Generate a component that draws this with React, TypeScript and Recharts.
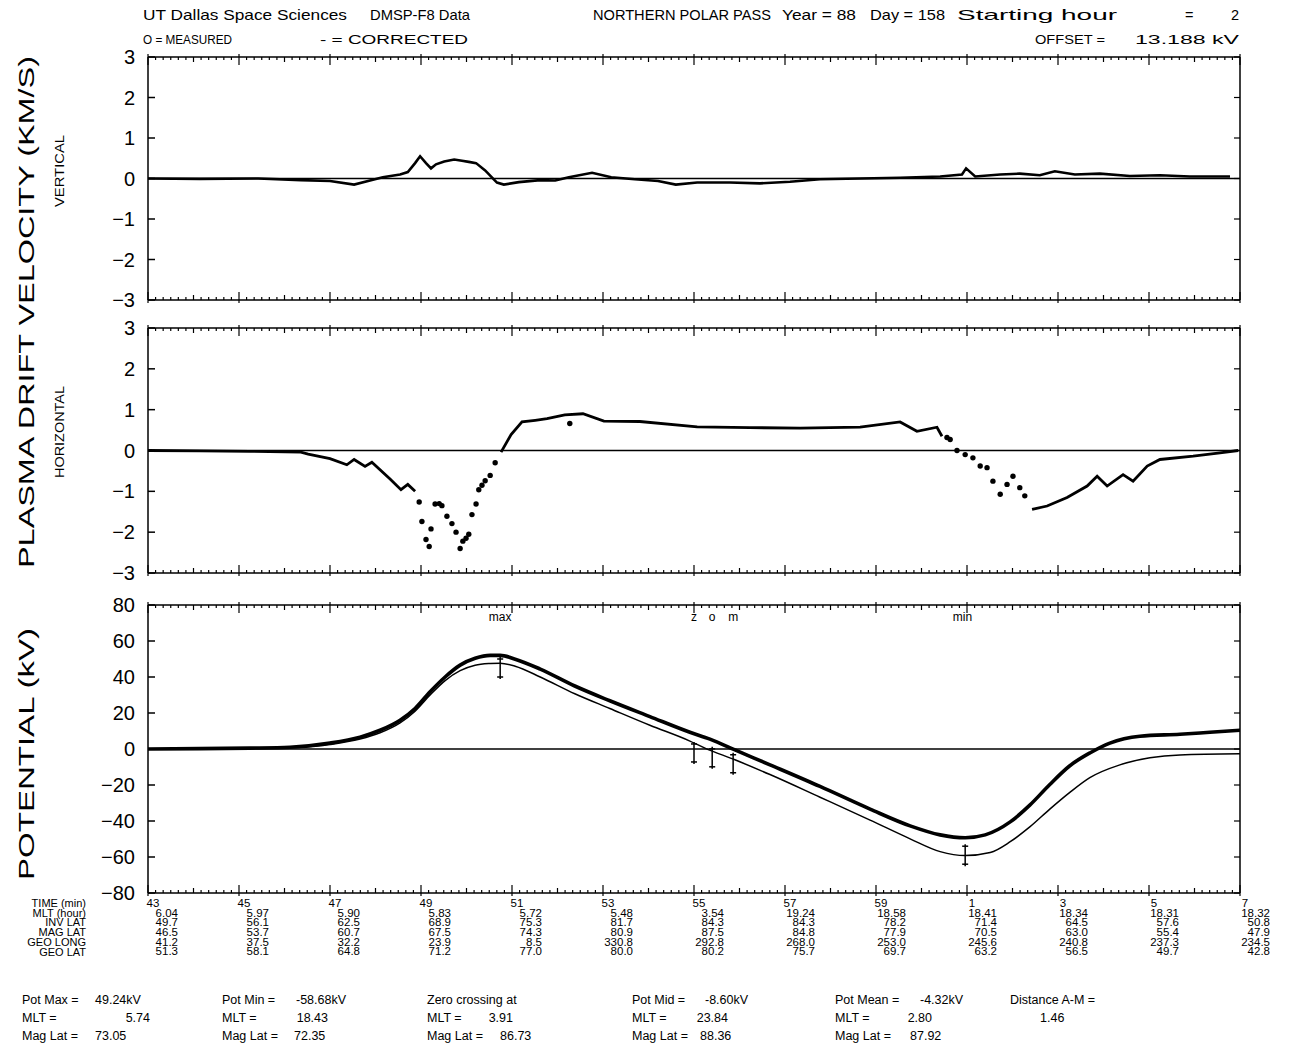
import React from "react";
import { ComposedChart, Line, Scatter, XAxis, YAxis, ReferenceLine } from "recharts";

const FONT = "'Liberation Sans', Arial, sans-serif";

// x axis: minutes after 02:43 UT (0 .. 24)
const timeLabels = ["43", "45", "47", "49", "51", "53", "55", "57", "59", "1", "3", "5", "7"];
const mltLabels = ["6.04", "5.97", "5.90", "5.83", "5.72", "5.48", "3.54", "19.24", "18.58", "18.41", "18.34", "18.31", "18.32"];
const invLatLabels = ["49.7", "56.1", "62.5", "68.9", "75.3", "81.7", "84.3", "84.3", "78.2", "71.4", "64.5", "57.6", "50.8"];
const magLatLabels = ["46.5", "53.7", "60.7", "67.5", "74.3", "80.9", "87.5", "84.8", "77.9", "70.5", "63.0", "55.4", "47.9"];
const geoLongLabels = ["41.2", "37.5", "32.2", "23.9", "8.5", "330.8", "292.8", "268.0", "253.0", "245.6", "240.8", "237.3", "234.5"];
const geoLatLabels = ["51.3", "58.1", "64.8", "71.2", "77.0", "80.0", "80.2", "75.7", "69.7", "63.2", "56.5", "49.7", "42.8"];
const rowNames = ["TIME (min)", "MLT (hour)", "INV LAT", "MAG LAT", "GEO LONG", "GEO LAT"];

const velTicks = [-3, -2, -1, 0, 1, 2, 3];
const potTicks = [-80, -60, -40, -20, 0, 20, 40, 60, 80];

// vertical drift (km/s)
const vertical = [
  [0, 0], [1.14, -0.01], [2.42, 0], [3.36, -0.04], [4.0, -0.06], [4.53, -0.15], [4.88, -0.05],
  [5.16, 0.03], [5.54, 0.1], [5.71, 0.16], [5.87, 0.38], [5.98, 0.55], [6.11, 0.38], [6.22, 0.25],
  [6.33, 0.35], [6.51, 0.42], [6.73, 0.47], [6.9, 0.44], [7.05, 0.41], [7.21, 0.38], [7.41, 0.2],
  [7.6, -0.02], [7.67, -0.1], [7.82, -0.15], [8.15, -0.09], [8.62, -0.04], [8.95, -0.05], [9.25, 0.03],
  [9.76, 0.14], [10.18, 0.03], [10.7, -0.02], [11.21, -0.06], [11.6, -0.15], [12.07, -0.1],
  [12.79, -0.1], [13.45, -0.12], [14.11, -0.08], [14.77, -0.02], [15.65, 0], [16.53, 0.02],
  [17.41, 0.05], [17.89, 0.1], [17.98, 0.25], [18.18, 0.05], [18.73, 0.1], [19.16, 0.12],
  [19.6, 0.08], [19.93, 0.18], [20.37, 0.1], [20.92, 0.12], [21.58, 0.06], [22.24, 0.08],
  [22.9, 0.05], [23.78, 0.05],
];

// horizontal drift (km/s): continuous stretches and sparse points
const horizLineA = [
  [0, 0], [1.14, -0.01], [2.24, -0.02], [3.36, -0.04], [3.52, -0.09], [4.0, -0.2], [4.37, -0.35],
  [4.53, -0.22], [4.77, -0.39], [4.92, -0.29], [5.32, -0.7], [5.56, -0.96], [5.71, -0.83], [5.87, -1.0],
];
const horizDotsA = [
  [5.96, -1.26], [6.02, -1.74], [6.11, -2.18], [6.18, -2.35], [6.22, -1.92], [6.31, -1.31],
  [6.4, -1.3], [6.46, -1.35], [6.57, -1.61], [6.68, -1.79], [6.77, -2.0], [6.86, -2.4],
  [6.92, -2.22], [6.99, -2.15], [7.05, -2.05], [7.12, -1.57], [7.21, -1.31], [7.27, -0.96],
  [7.34, -0.85], [7.41, -0.74], [7.52, -0.61], [7.63, -0.3],
];
const horizLineB = [
  [7.76, -0.04], [7.98, 0.39], [8.22, 0.7], [8.51, 0.74], [8.77, 0.78], [9.16, 0.87], [9.56, 0.9],
  [10.02, 0.72], [10.81, 0.71], [12.07, 0.58], [13.23, 0.56], [14.33, 0.55], [15.65, 0.57],
  [16.53, 0.7], [16.9, 0.47], [17.34, 0.57], [17.45, 0.35],
];
const horizDotsB = [
  [9.27, 0.66], [17.56, 0.32], [17.63, 0.27], [17.78, 0], [17.96, -0.1], [18.13, -0.18],
  [18.29, -0.38], [18.44, -0.42], [18.57, -0.75], [18.73, -1.07], [18.88, -0.83], [19.01, -0.63],
  [19.16, -0.91], [19.27, -1.11],
];
const horizLineC = [
  [19.43, -1.44], [19.76, -1.36], [20.2, -1.15], [20.64, -0.87], [20.86, -0.63], [21.08, -0.87],
  [21.43, -0.59], [21.65, -0.75], [21.96, -0.38], [22.24, -0.22], [22.97, -0.14], [23.56, -0.06],
  [23.96, 0],
];

// potential (kV)
const measured = [
  [0, 0], [1.14, 0.2], [2.24, 0.5], [3.12, 1], [4.0, 3.3], [4.66, 6.6], [5.1, 10.4], [5.54, 16],
  [5.87, 22.5], [6.2, 31.8], [6.53, 40], [6.86, 46.6], [7.19, 50.4], [7.52, 52], [7.74, 52],
  [8.07, 49.9], [8.62, 44.4], [9.38, 35], [10.15, 26.8], [11.03, 18], [11.91, 9.3], [12.35, 5.5],
  [12.9, -0.5], [13.67, -8.8], [14.77, -20.8], [15.87, -33.4], [16.75, -42.7], [17.41, -47.7],
  [17.96, -49.3], [18.4, -47.7], [18.95, -40.5], [19.38, -31.2], [19.82, -19.7], [20.26, -9.3],
  [20.7, -2.2], [21.14, 3.3], [21.8, 7.1], [22.68, 8.2], [23.34, 9.3], [24, 10.4],
];
const corrected = [
  [0, 0], [2.24, 0.3], [3.34, 0.8], [4.0, 2.5], [4.66, 5.5], [5.1, 9], [5.54, 14.5], [5.87, 21],
  [6.2, 30], [6.53, 38], [6.86, 43.5], [7.19, 46.5], [7.52, 47.5], [7.74, 47.7], [8.07, 46],
  [8.62, 40], [9.38, 30.7], [10.15, 22.5], [11.03, 13.2], [11.91, 4.4], [12.24, 0.5], [12.9, -6],
  [13.67, -14.2], [14.77, -26.8], [15.87, -39.5], [16.75, -49.9], [17.41, -57], [17.96, -59.2],
  [18.51, -57.5], [18.95, -51.5], [19.38, -43.3], [19.82, -33.4], [20.26, -24.1], [20.7, -15.9],
  [21.36, -8.8], [22.02, -4.9], [22.68, -3.3], [24, -2.7],
];
const markers = [[7.74, 45], [12.0, -2.2], [12.4, -4.9], [12.86, -8.2], [17.96, -59]];
const markerNames = ["max", "z", "o", "m", "min"];
const markerNameT = [7.74, 12.0, 12.4, 12.86, 17.9];

const pts = (a: number[][]) => a.map(([t, v]) => ({ t, v }));

const xTicks = Array.from({ length: 145 }, (_, i) => i / 6);
const labelRows = [mltLabels, invLatLabels, magLatLabels, geoLongLabels, geoLatLabels];

const edgeTick = (side: "top" | "bottom", withLabels = false) => (props: any) => {
  const { x, y, payload } = props;
  const i = Math.round(payload.value * 6);
  const major = i % 12 === 0;
  const len = major ? 8 : i % 6 === 0 ? 5 : 3;
  const dir = side === "top" ? 1 : -1;
  const k = i / 12;
  return (
    <g>
      <line x1={x} x2={x} y1={major ? y - dir * 3 : y} y2={y + dir * len} stroke="#000" strokeWidth={1.2} />
      {withLabels && major && (
        <g fontFamily={FONT} fontSize={11.5} fill="#000">
          <text x={x + 5} y={y + 14} textAnchor="middle">{timeLabels[k]}</text>
          {labelRows.map((row, r) => (
            <text key={r} x={x + 30} y={y + 23.5 + r * 9.7} textAnchor="end">{row[k]}</text>
          ))}
        </g>
      )}
    </g>
  );
};

const fmt = (v: number) => (v < 0 ? "\u2212" + Math.abs(v) : String(v));

const leftTick = (props: any) => {
  const { x, y, payload } = props;
  return (
    <g>
      <line x1={x} x2={x + 7} y1={y} y2={y} stroke="#000" strokeWidth={1.5} />
      <text x={x - 13} y={y + 7} textAnchor="end" fontFamily={FONT} fontSize={20} fill="#000">
        {fmt(payload.value)}
      </text>
    </g>
  );
};

const rightTick = (props: any) => {
  const { x, y } = props;
  return <line x1={x} x2={x - 6} y1={y} y2={y} stroke="#000" strokeWidth={1.2} />;
};

function Frame({ ticks, domain, bottomLabels }: { ticks: number[]; domain: number[]; bottomLabels?: boolean }) {
  return [
    <XAxis key="xb" xAxisId="b" type="number" dataKey="t" domain={[0, 24]} ticks={xTicks} interval={0}
      allowDataOverflow height={bottomLabels ? 80 : 10} tickSize={0} tickMargin={0}
      tick={edgeTick("bottom", bottomLabels)} axisLine={{ stroke: "#000", strokeWidth: 1.5 }} tickLine={false} />,
    <XAxis key="xt" xAxisId="top" orientation="top" type="number" dataKey="t" domain={[0, 24]} ticks={xTicks}
      interval={0} allowDataOverflow height={10} tickSize={0} tickMargin={0} tick={edgeTick("top")}
      axisLine={{ stroke: "#000", strokeWidth: 1.5 }} tickLine={false} />,
    <YAxis key="yl" yAxisId="l" type="number" dataKey="v" domain={domain} ticks={ticks} interval={0}
      allowDataOverflow width={148} tickSize={0} tickMargin={0} tick={leftTick}
      axisLine={{ stroke: "#000", strokeWidth: 1.5 }} tickLine={false} />,
    <YAxis key="yr" yAxisId="r" orientation="right" type="number" domain={domain} ticks={ticks} interval={0}
      allowDataOverflow width={70} tickSize={0} tickMargin={0} tick={rightTick}
      axisLine={{ stroke: "#000", strokeWidth: 1.5 }} tickLine={false} />,
    <ReferenceLine key="zero" xAxisId="b" yAxisId="l" y={0} stroke="#000" strokeWidth={1.5} />,
  ];
}

const dotShape = (p: any) => <circle cx={p.cx} cy={p.cy} r={2.7} fill="#000" />;
const markerShape = (p: any) => (
  <g stroke="#000" strokeWidth={1.5}>
    <line x1={p.cx} x2={p.cx} y1={p.cy - 11} y2={p.cy + 11} />
    <line x1={p.cx - 3} x2={p.cx + 3} y1={p.cy - 9} y2={p.cy - 9} />
    <line x1={p.cx - 3} x2={p.cx + 3} y1={p.cy + 9} y2={p.cy + 9} />
  </g>
);
const nameShape = (p: any) => (
  <text x={p.cx} y={p.cy} textAnchor="middle" fontFamily={FONT} fontSize={12} fill="#000" stroke="none">
    {p.payload.label}
  </text>
);

const W = 1310;
const SG = "spacingAndGlyphs";

export default function App() {
  const nameData = markerNameT.map((t, i) => ({ t, v: 71, label: markerNames[i] }));
  return (
    <div style={{ position: "absolute", left: 0, top: 0, width: W, height: 1051, background: "#fff" }}>
      {/* vertical velocity */}
      <div style={{ position: "absolute", left: 0, top: 47 }}>
        <ComposedChart width={W} height={263} margin={{ top: 0, right: 0, bottom: 0, left: 0 }}>
          {Frame({ ticks: velTicks, domain: [-3, 3] })}
          <Line xAxisId="b" yAxisId="l" data={pts(vertical)} dataKey="v" type="linear" stroke="#000"
            strokeWidth={2.6} dot={false} isAnimationActive={false} />
        </ComposedChart>
      </div>
      {/* horizontal velocity */}
      <div style={{ position: "absolute", left: 0, top: 318 }}>
        <ComposedChart width={W} height={265} margin={{ top: 0, right: 0, bottom: 0, left: 0 }}>
          {Frame({ ticks: velTicks, domain: [-3, 3] })}
          {[horizLineA, horizLineB, horizLineC].map((d, i) => (
            <Line key={i} xAxisId="b" yAxisId="l" data={pts(d)} dataKey="v" type="linear" stroke="#000"
              strokeWidth={2.8} dot={false} isAnimationActive={false} />
          ))}
          <Scatter xAxisId="b" yAxisId="l" data={pts([...horizDotsA, ...horizDotsB])} dataKey="v"
            shape={dotShape} isAnimationActive={false} />
        </ComposedChart>
      </div>
      {/* potential */}
      <div style={{ position: "absolute", left: 0, top: 595 }}>
        <ComposedChart width={W} height={378} margin={{ top: 0, right: 0, bottom: 0, left: 0 }}>
          {Frame({ ticks: potTicks, domain: [-80, 80], bottomLabels: true })}
          <Line xAxisId="b" yAxisId="l" data={pts(corrected)} dataKey="v" type="monotone" stroke="#000"
            strokeWidth={1.5} dot={false} isAnimationActive={false} />
          <Line xAxisId="b" yAxisId="l" data={pts(measured)} dataKey="v" type="monotone" stroke="#000"
            strokeWidth={3.6} dot={false} isAnimationActive={false} />
          <Scatter xAxisId="b" yAxisId="l" data={pts(markers)} dataKey="v" shape={markerShape}
            isAnimationActive={false} />
          <Scatter xAxisId="b" yAxisId="l" data={nameData} dataKey="v" shape={nameShape}
            isAnimationActive={false} />
        </ComposedChart>
      </div>

      <svg width={W} height={1051} style={{ position: "absolute", left: 0, top: 0, pointerEvents: "none" }}
        fontFamily={FONT} fill="#000">
        <g fontSize={14.5}>
          <text x={143} y={20} textLength={204} lengthAdjust={SG}>UT Dallas Space Sciences</text>
          <text x={370} y={20} textLength={100} lengthAdjust={SG}>DMSP-F8 Data</text>
          <text x={593} y={20} textLength={178} lengthAdjust={SG}>NORTHERN POLAR PASS</text>
          <text x={782} y={20} textLength={74} lengthAdjust={SG}>Year = 88</text>
          <text x={870} y={20} textLength={75} lengthAdjust={SG}>Day = 158</text>
          <text x={957} y={20} textLength={160} lengthAdjust={SG}>Starting hour</text>
          <text x={1185} y={20}>=</text>
          <text x={1231} y={20}>2</text>
        </g>
        <g fontSize={12}>
          <text x={143} y={44} textLength={89} lengthAdjust={SG}>O = MEASURED</text>
          <text x={320} y={44} textLength={148} lengthAdjust={SG}>-  =  CORRECTED</text>
          <text x={1035} y={44} textLength={70} lengthAdjust={SG}>OFFSET =</text>
          <text x={1135} y={44} textLength={104} lengthAdjust={SG}>13.188 kV</text>
        </g>
        <g fontSize={22}>
          <text transform="translate(34,312) rotate(-90)" textAnchor="middle" textLength={512}
            lengthAdjust={SG}>PLASMA DRIFT VELOCITY (KM/S)</text>
          <text transform="translate(34,754) rotate(-90)" textAnchor="middle" textLength={252}
            lengthAdjust={SG}>POTENTIAL (kV)</text>
        </g>
        <g fontSize={12}>
          <text transform="translate(64,171) rotate(-90)" textAnchor="middle" textLength={72}
            lengthAdjust={SG}>VERTICAL</text>
          <text transform="translate(64,432) rotate(-90)" textAnchor="middle" textLength={92}
            lengthAdjust={SG}>HORIZONTAL</text>
        </g>
        <g fontSize={11} textAnchor="end">
          {rowNames.map((n, i) => (
            <text key={n} x={86} y={907 + i * 9.7}>{n}</text>
          ))}
        </g>
        <g fontSize={12.5}>
          <text x={22} y={1004}>Pot Max =</text>
          <text x={95} y={1004}>49.24kV</text>
          <text x={22} y={1022}>MLT =</text>
          <text x={150} y={1022} textAnchor="end">5.74</text>
          <text x={22} y={1040}>Mag Lat =</text>
          <text x={95} y={1040}>73.05</text>

          <text x={222} y={1004}>Pot Min =</text>
          <text x={296} y={1004}>-58.68kV</text>
          <text x={222} y={1022}>MLT =</text>
          <text x={328} y={1022} textAnchor="end">18.43</text>
          <text x={222} y={1040}>Mag Lat =</text>
          <text x={294} y={1040}>72.35</text>

          <text x={427} y={1004}>Zero crossing at</text>
          <text x={427} y={1022}>MLT =</text>
          <text x={513} y={1022} textAnchor="end">3.91</text>
          <text x={427} y={1040}>Mag Lat =</text>
          <text x={500} y={1040}>86.73</text>

          <text x={632} y={1004}>Pot Mid =</text>
          <text x={705} y={1004}>-8.60kV</text>
          <text x={632} y={1022}>MLT =</text>
          <text x={728} y={1022} textAnchor="end">23.84</text>
          <text x={632} y={1040}>Mag Lat =</text>
          <text x={700} y={1040}>88.36</text>

          <text x={835} y={1004}>Pot Mean =</text>
          <text x={920} y={1004}>-4.32kV</text>
          <text x={835} y={1022}>MLT =</text>
          <text x={932} y={1022} textAnchor="end">2.80</text>
          <text x={835} y={1040}>Mag Lat =</text>
          <text x={910} y={1040}>87.92</text>

          <text x={1010} y={1004}>Distance A-M =</text>
          <text x={1040} y={1022}>1.46</text>
        </g>
      </svg>
    </div>
  );
}
